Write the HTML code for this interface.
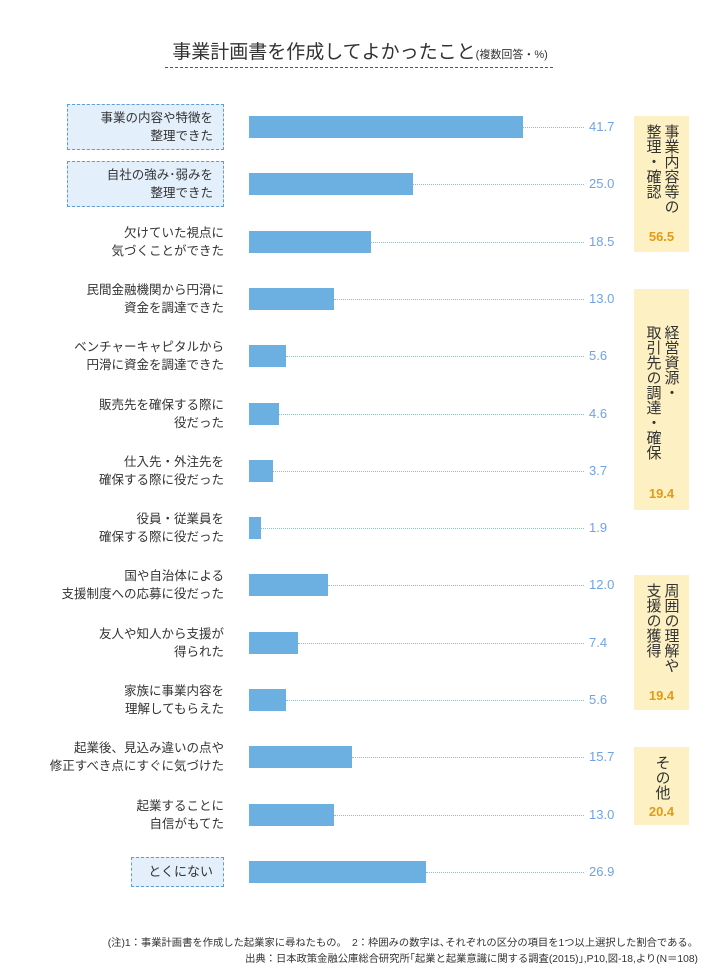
<!DOCTYPE html>
<html><head><meta charset="utf-8"><style>
body{margin:0;width:720px;height:980px;background:#fff;font-family:"Liberation Sans","Noto Sans CJK JP",sans-serif;color:#333;position:relative;overflow:hidden}
.abs{position:absolute}
.lbl{position:absolute;right:496px;text-align:right;font-size:12.5px;line-height:18px;width:180px}
.boxed{background:#e3effb;border:1px dashed #5b9be0;box-sizing:border-box;display:flex;align-items:center;justify-content:flex-end;padding-right:10px}
.val{position:absolute;left:589px;font-size:13px;color:#6fa3e6;width:30px;text-align:left}
.grp{position:absolute;left:634px;width:55px;background:#fdf1c4;box-sizing:border-box}
.gt{position:absolute;font-size:15px;line-height:18px;writing-mode:vertical-rl;color:#333;left:50%;transform:translateX(-50%);top:8px;white-space:nowrap}
.gv{position:absolute;width:100%;text-align:center;font-size:13px;font-weight:bold;color:#e39a14}
.foot{position:absolute;right:22px;font-size:10.3px;color:#333;white-space:nowrap}
</style></head><body>
<div class="abs" style="left:0;width:720px;top:37px;text-align:center;font-size:19px">事業計画書を作成してよかったこと<span style="font-size:11px">(複数回答・%)</span></div>
<div class="abs" style="left:165px;width:388px;top:67px;border-top:1px dashed #555"></div>
<div id="chart"></div>
<div class="grp" style="top:116px;height:136px"><div class="gt">事業内容等の<br>整理・確認</div><div class="gv" style="top:113px">56.5</div></div>
<div class="grp" style="top:289px;height:221px"><div class="gt" style="top:36px">経営資源・<br>取引先の調達・確保</div><div class="gv" style="top:197px">19.4</div></div>
<div class="grp" style="top:575px;height:135px"><div class="gt">周囲の理解や<br>支援の獲得</div><div class="gv" style="top:113px">19.4</div></div>
<div class="grp" style="top:747px;height:78px"><div class="gt">その他</div><div class="gv" style="top:57px">20.4</div></div>
<div class="foot" style="top:934px">(注)1：事業計画書を作成した起業家に尋ねたもの。　2：枠囲みの数字は､それぞれの区分の項目を1つ以上選択した割合である。</div>
<div class="foot" style="top:950px">出典：日本政策金融公庫総合研究所｢起業と起業意識に関する調査(2015)｣,P10,図-18,より(N＝108)</div>
<script>
const categories=["事業の内容や特徴を<br>整理できた","自社の強み･弱みを<br>整理できた","欠けていた視点に<br>気づくことができた","民間金融機関から円滑に<br>資金を調達できた","ベンチャーキャピタルから<br>円滑に資金を調達できた","販売先を確保する際に<br>役だった","仕入先・外注先を<br>確保する際に役だった","役員・従業員を<br>確保する際に役だった","国や自治体による<br>支援制度への応募に役だった","友人や知人から支援が<br>得られた","家族に事業内容を<br>理解してもらえた","起業後、見込み違いの点や<br>修正すべき点にすぐに気づけた","起業することに<br>自信がもてた","とくにない"];
const values=[41.7,25.0,18.5,13.0,5.6,4.6,3.7,1.9,12.0,7.4,5.6,15.7,13.0,26.9];
const boxed=[0,1,13];
const x0=249,scale=274/41.7,rowTop=116,rowStep=57.3,barH=22;
const xs=v=>x0+v*scale;
const c=document.getElementById('chart');
categories.forEach((cat,i)=>{
 const y=rowTop+i*rowStep, cy=y+barH/2;
 const l=document.createElement('div');
 
 
 if(boxed.includes(i)){
  l.className='lbl boxed';
  if(i===13){l.style.cssText=`top:${cy-15}px;height:30px;width:93px;right:496px;font-size:13px`;}
  else{l.style.cssText=`top:${cy-23}px;height:46px;width:157px;right:496px`;}
 } else {l.className='lbl';l.style.top=(cy-18)+'px';}
 l.innerHTML=cat;c.appendChild(l);
 const b=document.createElement('div');
 
 
 b.className='abs';b.style.cssText=`left:${x0}px;top:${y}px;width:${xs(values[i])-x0}px;height:${barH}px;background:#6cb0e2`;
 c.appendChild(b);
 const d=document.createElement('div');
 
 
 d.className='abs';d.style.cssText=`left:${xs(values[i])}px;top:${cy}px;width:${584-xs(values[i])}px;border-top:1px dotted #8fbbe8`;
 c.appendChild(d);
 const v=document.createElement('div');
 
 
 v.className='val';v.style.top=(cy-8)+'px';v.textContent=values[i].toFixed(1);
 c.appendChild(v);
});
</script>
</body></html>
